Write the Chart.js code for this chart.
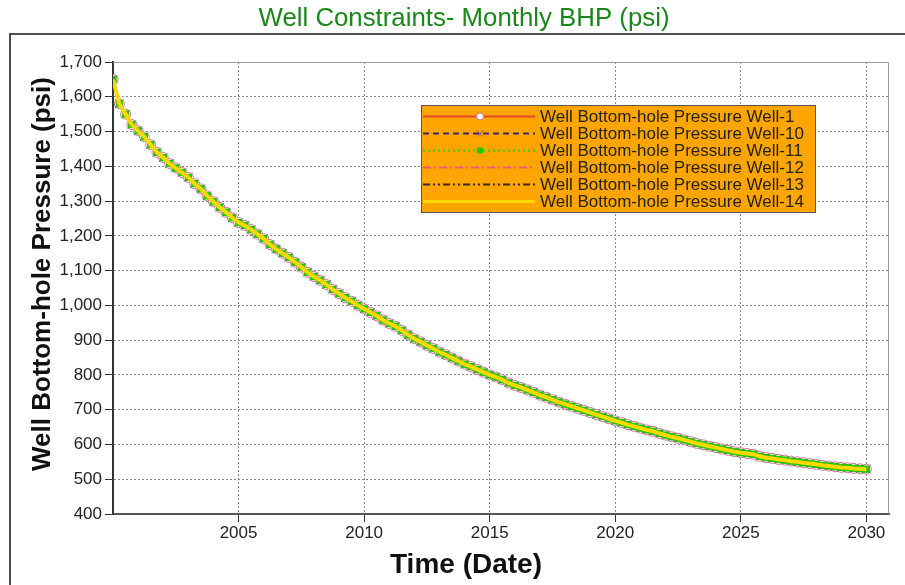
<!DOCTYPE html>
<html>
<head>
<meta charset="utf-8">
<title>Well Constraints- Monthly BHP (psi)</title>
<script src="https://cdn.jsdelivr.net/npm/chart.js@4.4.1/dist/chart.umd.min.js"></script>
<style>
	html, body { margin: 0; padding: 0; background: #fff; }
	#wrap { width: 905px; height: 585px; }
</style>
</head>
<body>
<div id="wrap"><canvas id="bhp" width="905" height="585"></canvas></div>
<script>
(function(){
	'use strict';

	// BHP (psi), one value per quarter from 2000 to 2030
	var startYear = 2000;
	var bhp = [
		1650, 1580, 1550, 1520,
		1502, 1485, 1462, 1440,
		1425, 1408, 1395, 1382,
		1368, 1350, 1335, 1315,
		1298, 1282, 1268, 1252,
		1238, 1230, 1218, 1205,
		1192, 1175, 1162, 1150,
		1138, 1124, 1110, 1095,
		1083, 1072, 1060, 1046,
		1034, 1022, 1012, 1000,
		990, 980, 970, 958,
		948, 940, 928, 915,
		904, 895, 885, 876,
		866, 858, 849, 840,
		831, 824, 816, 808,
		800, 794, 786, 777,
		770, 764, 757, 750,
		742, 736, 729, 722,
		716, 710, 704, 698,
		692, 686, 680, 674,
		668, 663, 657, 652,
		647, 642, 638, 632,
		627, 622, 618, 613,
		608, 603, 599, 595,
		591, 587, 583, 579,
		576, 574, 572, 566,
		562, 560, 557, 555,
		552, 550, 547, 545,
		543, 540, 538, 536,
		534, 533, 531, 530,
		529
	];
	var wells = ['Well-1', 'Well-10', 'Well-11', 'Well-12', 'Well-13', 'Well-14'];
	var xTicks = [2005, 2010, 2015, 2020, 2025, 2030];
	var yMin = 400, yMax = 1700, yStep = 100;

	var FONT = '"Liberation Sans", Arial, Helvetica, sans-serif';

	// line / marker look of each well (lower order is drawn on top)
	var looks = {
		'Well-1':  {color:'#e2472a', dash:[],             width:2, point:'circle',   radius:5,   bg:'#ffffff', border:'#d8709a', order:3},
		'Well-10': {color:'#3e2a62', dash:[6,4],          width:2, point:'crossRot', radius:6,   bg:'#7a48b0', border:'#7a48b0', order:2},
		'Well-11': {color:'#33cc00', dash:[2,3],          width:2, point:'rect',     radius:4.5, bg:'#22c400', border:'#22c400', order:1},
		'Well-12': {color:'#f4567a', dash:[8,3,2,3],      width:2, point:false,      radius:0,   order:4},
		'Well-13': {color:'#3a2434', dash:[7,3,2,3,2,3],  width:2, point:false,      radius:0,   order:5},
		'Well-14': {color:'#ffd800', dash:[],             width:4, point:false,      radius:0,   order:0}
	};

	var points = bhp.map(function(v, i){
		return {x: startYear + i / 4, y: v};
	});

	var datasets = wells.map(function(w){
		var l = looks[w];
		return {
			label: 'Well Bottom-hole Pressure ' + w,
			data: points,
			borderColor: l.color,
			borderDash: l.dash,
			borderWidth: l.width,
			pointStyle: l.point,
			pointRadius: l.radius,
			pointBackgroundColor: l.bg,
			pointBorderColor: l.border,
			pointBorderWidth: 1,
			order: l.order,
			tension: 0,
			fill: false
		};
	});

	function marker(ctx, style, x, y, r, bg, border){
		if (!style) return;
		ctx.save();
		ctx.setLineDash([]);
		ctx.fillStyle = bg;
		ctx.strokeStyle = border;
		ctx.lineWidth = 1;
		ctx.beginPath();
		if (style === 'circle') {
			ctx.arc(x, y, 3.5, 0, Math.PI * 2);
			ctx.fill(); ctx.stroke();
		} else if (style === 'rect') {
			ctx.rect(x - 3, y - 3, 6, 6);
			ctx.fill();
		} else if (style === 'crossRot') {
			ctx.moveTo(x - 3, y - 3); ctx.lineTo(x + 3, y + 3);
			ctx.moveTo(x - 3, y + 3); ctx.lineTo(x + 3, y - 3);
			ctx.stroke();
		}
		ctx.restore();
	}

	var decor = {
		id: 'decor',
		beforeDraw: function(chart){
			var ctx = chart.ctx;
			ctx.save();
			ctx.fillStyle = '#ffffff';
			ctx.fillRect(0, 0, chart.width, chart.height);
			// outer frame
			ctx.strokeStyle = '#505050';
			ctx.lineWidth = 2;
			ctx.beginPath();
			ctx.moveTo(10, chart.height);
			ctx.lineTo(10, 34);
			ctx.lineTo(chart.width, 34);
			ctx.stroke();
			ctx.restore();
		},
		beforeDatasetsDraw: function(chart){
			var a = chart.chartArea, ctx = chart.ctx;
			ctx.save();
			ctx.strokeStyle = '#999';
			ctx.lineWidth = 1;
			ctx.beginPath();
			ctx.moveTo(a.left, a.top + 0.5);
			ctx.lineTo(a.right - 0.5, a.top + 0.5);
			ctx.lineTo(a.right - 0.5, a.bottom);
			ctx.stroke();
			ctx.restore();
		},
		afterDraw: function(chart){
			var ctx = chart.ctx;
			ctx.save();

			// title
			ctx.fillStyle = '#1a871a';
			ctx.font = '25.8px ' + FONT;
			ctx.textAlign = 'center';
			ctx.textBaseline = 'alphabetic';
			ctx.fillText('Well Constraints- Monthly BHP (psi)', 464, 26);

			// axis titles
			ctx.fillStyle = '#111';
			ctx.font = 'bold 28px ' + FONT;
			ctx.fillText('Time (Date)', 466, 573);

			ctx.save();
			ctx.translate(43, 274);
			ctx.rotate(-Math.PI / 2);
			ctx.font = 'bold 26px ' + FONT;
			ctx.textBaseline = 'middle';
			ctx.fillText('Well Bottom-hole Pressure (psi)', 0, 0);
			ctx.restore();

			// legend box
			ctx.fillStyle = '#ffa500';
			ctx.fillRect(421, 105, 394, 107);
			ctx.strokeStyle = '#555';
			ctx.lineWidth = 1;
			ctx.strokeRect(421.5, 105.5, 394, 107);

			ctx.font = '17px ' + FONT;
			ctx.textAlign = 'left';
			ctx.textBaseline = 'middle';
			chart.data.datasets.forEach(function(ds, i){
				var y = 116.5 + i * 17;
				ctx.save();
				ctx.beginPath();
				ctx.setLineDash(ds.borderDash);
				ctx.strokeStyle = ds.borderColor;
				ctx.lineWidth = ds.borderWidth > 2 ? 3 : 2;
				ctx.moveTo(423, y);
				ctx.lineTo(535, y);
				ctx.stroke();
				ctx.restore();
				marker(ctx, ds.pointStyle, 480, y, ds.pointRadius, ds.pointBackgroundColor, ds.pointBorderColor);
				ctx.fillStyle = '#222';
				ctx.fillText(ds.label, 540, y + 1);
			});

			ctx.restore();
		}
	};

	new Chart(document.getElementById('bhp'), {
		type: 'line',
		data: {datasets: datasets},
		plugins: [decor],
		options: {
			responsive: false,
			animation: false,
			events: [],
			layout: {padding: {top: 62, right: 16, bottom: 0, left: 0}},
			plugins: {
				legend: {display: false},
				title: {display: false},
				tooltip: {enabled: false}
			},
			scales: {
				x: {
					type: 'linear',
					min: startYear,
					max: 2030.9,
					afterBuildTicks: function(scale){
						scale.ticks = xTicks.map(function(v){ return {value: v}; });
					},
					afterFit: function(scale){ scale.height = 71; },
					ticks: {
						color: '#222',
						font: {family: FONT, size: 17},
						padding: 1,
						maxRotation: 0,
						callback: function(v){ return String(v); }
					},
					grid: {color: '#8a8a8a', lineWidth: 1, tickLength: 8, tickColor: '#333', tickWidth: 1},
					border: {color: '#555', width: 2, dash: [2, 2]}
				},
				y: {
					type: 'linear',
					min: yMin,
					max: yMax,
					afterFit: function(scale){ scale.width = 113; },
					ticks: {
						stepSize: yStep,
						color: '#222',
						font: {family: FONT, size: 17},
						padding: 3,
						callback: function(v){ return v.toLocaleString('en-US'); }
					},
					grid: {color: '#8a8a8a', lineWidth: 1, tickLength: 8, tickColor: '#333', tickWidth: 1},
					border: {color: '#333', width: 2, dash: [2, 2]}
				}
			}
		}
	});
})();
</script>
</body>
</html>
